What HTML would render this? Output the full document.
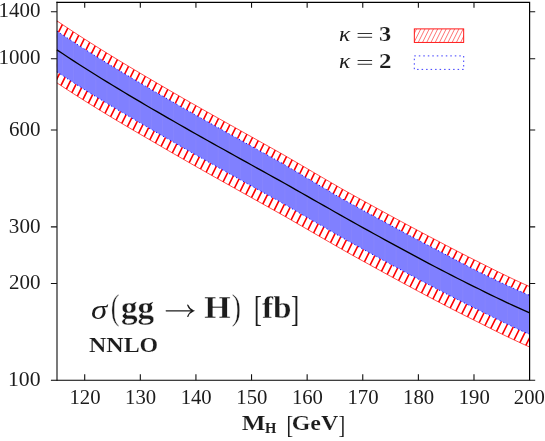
<!DOCTYPE html>
<html><head><meta charset="utf-8"><style>html,body{margin:0;padding:0;background:#fff}svg{display:block}</style></head><body>
<svg width="545" height="441" viewBox="0 0 545 441">
<rect width="545" height="441" fill="#fff"/>
<defs><clipPath id="cb"><polygon points="56.90,20.84 62.46,24.58 68.02,28.28 73.58,31.93 79.14,35.55 84.71,39.13 90.27,42.67 95.83,46.18 101.39,49.66 106.95,53.11 112.51,56.53 118.07,59.93 123.63,63.30 129.20,66.65 134.76,69.98 140.32,73.29 145.88,76.58 151.44,79.85 157.00,83.11 162.56,86.35 168.12,89.59 173.68,92.81 179.25,96.02 184.81,99.22 190.37,102.41 195.93,105.59 201.49,108.76 207.05,111.90 212.61,115.03 218.17,118.16 223.74,121.29 229.30,124.41 234.86,127.53 240.42,130.64 245.98,133.76 251.54,136.87 257.10,139.99 262.66,143.10 268.22,146.21 273.79,149.33 279.35,152.44 284.91,155.61 290.47,158.86 296.03,162.12 301.59,165.37 307.15,168.62 312.71,171.88 318.28,175.13 323.84,178.38 329.40,181.63 334.96,184.87 340.52,188.11 346.08,191.25 351.64,194.36 357.20,197.44 362.76,200.52 368.33,203.58 373.89,206.64 379.45,209.69 385.01,212.74 390.57,215.77 396.13,218.80 401.69,221.81 407.25,224.81 412.82,227.79 418.38,230.76 423.94,233.71 429.50,236.65 435.06,239.56 440.62,242.46 446.18,245.40 451.74,248.31 457.30,251.20 462.87,254.06 468.43,256.89 473.99,259.69 479.55,262.46 485.11,265.30 490.67,268.11 496.23,270.89 501.79,273.62 507.36,276.31 512.92,278.96 518.48,281.55 524.04,284.10 529.60,286.59 529.60,346.99 524.04,344.50 518.48,341.95 512.92,339.36 507.36,336.71 501.79,334.02 496.23,331.29 490.67,328.51 485.11,325.70 479.55,322.86 473.99,320.12 468.43,317.35 462.87,314.55 457.30,311.71 451.74,308.86 446.18,305.97 440.62,303.06 435.06,300.15 429.50,297.23 423.94,294.28 418.38,291.32 412.82,288.34 407.25,285.34 401.69,282.33 396.13,279.31 390.57,276.27 385.01,273.23 379.45,270.17 373.89,267.11 368.33,264.04 362.76,260.96 357.20,257.88 351.64,254.79 346.08,251.66 340.52,248.51 334.96,245.31 329.40,242.10 323.84,238.89 318.28,235.67 312.71,232.46 307.15,229.24 301.59,226.03 296.03,222.81 290.47,219.59 284.91,216.38 279.35,213.24 273.79,210.13 268.22,207.02 262.66,203.91 257.10,200.81 251.54,197.70 245.98,194.59 240.42,191.48 234.86,188.36 229.30,185.25 223.74,182.13 218.17,179.01 212.61,175.88 207.05,172.76 201.49,169.62 195.93,166.46 190.37,163.28 184.81,160.09 179.25,156.89 173.68,153.69 168.12,150.47 162.56,147.25 157.00,144.00 151.44,140.75 145.88,137.53 140.32,134.30 134.76,131.06 129.20,127.80 123.63,124.51 118.07,121.21 112.51,117.88 106.95,114.52 101.39,111.14 95.83,107.73 90.27,104.28 84.71,100.80 79.14,97.29 73.58,93.74 68.02,90.15 62.46,86.52 56.90,82.84"/></clipPath></defs>
<path d="M-70.43,0 L-290.93,441 M-63.18,0 L-283.68,441 M-55.92,0 L-276.42,441 M-48.67,0 L-269.17,441 M-41.41,0 L-261.91,441 M-34.16,0 L-254.66,441 M-26.91,0 L-247.41,441 M-19.65,0 L-240.15,441 M-12.40,0 L-232.90,441 M-5.14,0 L-225.64,441 M2.11,0 L-218.39,441 M9.36,0 L-211.14,441 M16.62,0 L-203.88,441 M23.87,0 L-196.63,441 M31.13,0 L-189.37,441 M38.38,0 L-182.12,441 M45.63,0 L-174.87,441 M52.89,0 L-167.61,441 M60.14,0 L-160.36,441 M67.40,0 L-153.10,441 M74.65,0 L-145.85,441 M81.90,0 L-138.60,441 M89.16,0 L-131.34,441 M96.41,0 L-124.09,441 M103.67,0 L-116.83,441 M110.92,0 L-109.58,441 M118.17,0 L-102.33,441 M125.43,0 L-95.07,441 M132.68,0 L-87.82,441 M139.94,0 L-80.56,441 M147.19,0 L-73.31,441 M154.44,0 L-66.06,441 M161.70,0 L-58.80,441 M168.95,0 L-51.55,441 M176.21,0 L-44.29,441 M183.46,0 L-37.04,441 M190.71,0 L-29.79,441 M197.97,0 L-22.53,441 M205.22,0 L-15.28,441 M212.48,0 L-8.02,441 M219.73,0 L-0.77,441 M226.98,0 L6.48,441 M234.24,0 L13.74,441 M241.49,0 L20.99,441 M248.75,0 L28.25,441 M256.00,0 L35.50,441 M263.25,0 L42.75,441 M270.51,0 L50.01,441 M277.76,0 L57.26,441 M285.02,0 L64.52,441 M292.27,0 L71.77,441 M299.52,0 L79.02,441 M306.78,0 L86.28,441 M314.03,0 L93.53,441 M321.29,0 L100.79,441 M328.54,0 L108.04,441 M335.79,0 L115.29,441 M343.05,0 L122.55,441 M350.30,0 L129.80,441 M357.56,0 L137.06,441 M364.81,0 L144.31,441 M372.06,0 L151.56,441 M379.32,0 L158.82,441 M386.57,0 L166.07,441 M393.83,0 L173.33,441 M401.08,0 L180.58,441 M408.33,0 L187.83,441 M415.59,0 L195.09,441 M422.84,0 L202.34,441 M430.10,0 L209.60,441 M437.35,0 L216.85,441 M444.60,0 L224.10,441 M451.86,0 L231.36,441 M459.11,0 L238.61,441 M466.37,0 L245.87,441 M473.62,0 L253.12,441 M480.87,0 L260.37,441 M488.13,0 L267.63,441 M495.38,0 L274.88,441 M502.64,0 L282.14,441 M509.89,0 L289.39,441 M517.14,0 L296.64,441 M524.40,0 L303.90,441 M531.65,0 L311.15,441 M538.91,0 L318.41,441 M546.16,0 L325.66,441 M553.41,0 L332.91,441 M560.67,0 L340.17,441 M567.92,0 L347.42,441 M575.18,0 L354.68,441 M582.43,0 L361.93,441 M589.68,0 L369.18,441 M596.94,0 L376.44,441 M604.19,0 L383.69,441 M611.45,0 L390.95,441 M618.70,0 L398.20,441 M625.95,0 L405.45,441 M633.21,0 L412.71,441 M640.46,0 L419.96,441 M647.72,0 L427.22,441 M654.97,0 L434.47,441 M662.22,0 L441.72,441 M669.48,0 L448.98,441 M676.73,0 L456.23,441 M683.99,0 L463.49,441 M691.24,0 L470.74,441 M698.49,0 L477.99,441 M705.75,0 L485.25,441 M713.00,0 L492.50,441 M720.26,0 L499.76,441 M727.51,0 L507.01,441 M734.76,0 L514.26,441 M742.02,0 L521.52,441 M749.27,0 L528.77,441" stroke="#ff0000" stroke-width="1.60" fill="none" clip-path="url(#cb)"/>
<polyline points="56.90,20.84 62.46,24.58 68.02,28.28 73.58,31.93 79.14,35.55 84.71,39.13 90.27,42.67 95.83,46.18 101.39,49.66 106.95,53.11 112.51,56.53 118.07,59.93 123.63,63.30 129.20,66.65 134.76,69.98 140.32,73.29 145.88,76.58 151.44,79.85 157.00,83.11 162.56,86.35 168.12,89.59 173.68,92.81 179.25,96.02 184.81,99.22 190.37,102.41 195.93,105.59 201.49,108.76 207.05,111.90 212.61,115.03 218.17,118.16 223.74,121.29 229.30,124.41 234.86,127.53 240.42,130.64 245.98,133.76 251.54,136.87 257.10,139.99 262.66,143.10 268.22,146.21 273.79,149.33 279.35,152.44 284.91,155.61 290.47,158.86 296.03,162.12 301.59,165.37 307.15,168.62 312.71,171.88 318.28,175.13 323.84,178.38 329.40,181.63 334.96,184.87 340.52,188.11 346.08,191.25 351.64,194.36 357.20,197.44 362.76,200.52 368.33,203.58 373.89,206.64 379.45,209.69 385.01,212.74 390.57,215.77 396.13,218.80 401.69,221.81 407.25,224.81 412.82,227.79 418.38,230.76 423.94,233.71 429.50,236.65 435.06,239.56 440.62,242.46 446.18,245.40 451.74,248.31 457.30,251.20 462.87,254.06 468.43,256.89 473.99,259.69 479.55,262.46 485.11,265.30 490.67,268.11 496.23,270.89 501.79,273.62 507.36,276.31 512.92,278.96 518.48,281.55 524.04,284.10 529.60,286.59" fill="none" stroke="#ff0000" stroke-width="0.7"/>
<polyline points="56.90,82.84 62.46,86.52 68.02,90.15 73.58,93.74 79.14,97.29 84.71,100.80 90.27,104.28 95.83,107.73 101.39,111.14 106.95,114.52 112.51,117.88 118.07,121.21 123.63,124.51 129.20,127.80 134.76,131.06 140.32,134.30 145.88,137.53 151.44,140.75 157.00,144.00 162.56,147.25 168.12,150.47 173.68,153.69 179.25,156.89 184.81,160.09 190.37,163.28 195.93,166.46 201.49,169.62 207.05,172.76 212.61,175.88 218.17,179.01 223.74,182.13 229.30,185.25 234.86,188.36 240.42,191.48 245.98,194.59 251.54,197.70 257.10,200.81 262.66,203.91 268.22,207.02 273.79,210.13 279.35,213.24 284.91,216.38 290.47,219.59 296.03,222.81 301.59,226.03 307.15,229.24 312.71,232.46 318.28,235.67 323.84,238.89 329.40,242.10 334.96,245.31 340.52,248.51 346.08,251.66 351.64,254.79 357.20,257.88 362.76,260.96 368.33,264.04 373.89,267.11 379.45,270.17 385.01,273.23 390.57,276.27 396.13,279.31 401.69,282.33 407.25,285.34 412.82,288.34 418.38,291.32 423.94,294.28 429.50,297.23 435.06,300.15 440.62,303.06 446.18,305.97 451.74,308.86 457.30,311.71 462.87,314.55 468.43,317.35 473.99,320.12 479.55,322.86 485.11,325.70 490.67,328.51 496.23,331.29 501.79,334.02 507.36,336.71 512.92,339.36 518.48,341.95 524.04,344.50 529.60,346.99" fill="none" stroke="#ff0000" stroke-width="0.7"/>
<polygon points="56.90,31.04 62.46,34.76 68.02,38.43 73.58,42.06 79.14,45.65 84.71,49.21 90.27,52.73 95.83,56.22 101.39,59.67 106.95,63.10 112.51,66.50 118.07,69.87 123.63,73.22 129.20,76.54 134.76,79.84 140.32,83.13 145.88,86.39 151.44,89.64 157.00,92.88 162.56,96.11 168.12,99.32 173.68,102.52 179.25,105.70 184.81,108.88 190.37,112.05 195.93,115.22 201.49,118.36 207.05,121.48 212.61,124.59 218.17,127.70 223.74,130.80 229.30,133.90 234.86,137.00 240.42,140.10 245.98,143.19 251.54,146.28 257.10,149.38 262.66,152.47 268.22,155.56 273.79,158.65 279.35,161.74 284.91,164.95 290.47,168.25 296.03,171.55 301.59,174.85 307.15,178.15 312.71,181.45 318.28,184.75 323.84,188.04 329.40,191.34 334.96,194.63 340.52,197.91 346.08,201.02 351.64,204.12 357.20,207.17 362.76,210.22 368.33,213.27 373.89,216.31 379.45,219.34 385.01,222.36 390.57,225.37 396.13,228.37 401.69,231.36 407.25,234.34 412.82,237.30 418.38,240.25 423.94,243.18 429.50,246.09 435.06,248.98 440.62,251.87 446.18,254.86 451.74,257.83 457.30,260.77 462.87,263.69 468.43,266.58 473.99,269.43 479.55,272.25 485.11,274.99 490.67,277.70 496.23,280.36 501.79,282.98 507.36,285.56 512.92,288.09 518.48,290.58 524.04,293.01 529.60,295.39 529.60,334.39 524.04,331.92 518.48,329.40 512.92,326.82 507.36,324.20 501.79,321.53 496.23,318.82 490.67,316.07 485.11,313.28 479.55,310.46 473.99,307.75 468.43,305.01 462.87,302.23 457.30,299.43 451.74,296.60 446.18,293.74 440.62,290.86 435.06,287.97 429.50,285.07 423.94,282.15 418.38,279.20 412.82,276.25 407.25,273.27 401.69,270.28 396.13,267.28 390.57,264.27 385.01,261.25 379.45,258.22 373.89,255.17 368.33,252.13 362.76,249.07 357.20,246.01 351.64,242.94 346.08,239.83 340.52,236.71 334.96,233.51 329.40,230.30 323.84,227.09 318.28,223.87 312.71,220.66 307.15,217.44 301.59,214.23 296.03,211.01 290.47,207.79 284.91,204.58 279.35,201.44 273.79,198.35 268.22,195.27 262.66,192.18 257.10,189.09 251.54,186.01 245.98,182.92 240.42,179.83 234.86,176.74 229.30,173.64 223.74,170.55 218.17,167.45 212.61,164.34 207.05,161.24 201.49,158.12 195.93,154.98 190.37,151.82 184.81,148.66 179.25,145.48 173.68,142.30 168.12,139.10 162.56,135.90 157.00,132.68 151.44,129.44 145.88,126.24 140.32,123.03 134.76,119.81 129.20,116.56 123.63,113.30 118.07,110.01 112.51,106.70 106.95,103.36 101.39,100.00 95.83,96.60 90.27,93.17 84.71,89.71 79.14,86.22 73.58,82.69 68.02,79.12 62.46,75.50 56.90,71.84" fill="#8080ff"/>
<defs><clipPath id="bb"><polygon points="56.90,31.04 62.46,34.76 68.02,38.43 73.58,42.06 79.14,45.65 84.71,49.21 90.27,52.73 95.83,56.22 101.39,59.67 106.95,63.10 112.51,66.50 118.07,69.87 123.63,73.22 129.20,76.54 134.76,79.84 140.32,83.13 145.88,86.39 151.44,89.64 157.00,92.88 162.56,96.11 168.12,99.32 173.68,102.52 179.25,105.70 184.81,108.88 190.37,112.05 195.93,115.22 201.49,118.36 207.05,121.48 212.61,124.59 218.17,127.70 223.74,130.80 229.30,133.90 234.86,137.00 240.42,140.10 245.98,143.19 251.54,146.28 257.10,149.38 262.66,152.47 268.22,155.56 273.79,158.65 279.35,161.74 284.91,164.95 290.47,168.25 296.03,171.55 301.59,174.85 307.15,178.15 312.71,181.45 318.28,184.75 323.84,188.04 329.40,191.34 334.96,194.63 340.52,197.91 346.08,201.02 351.64,204.12 357.20,207.17 362.76,210.22 368.33,213.27 373.89,216.31 379.45,219.34 385.01,222.36 390.57,225.37 396.13,228.37 401.69,231.36 407.25,234.34 412.82,237.30 418.38,240.25 423.94,243.18 429.50,246.09 435.06,248.98 440.62,251.87 446.18,254.86 451.74,257.83 457.30,260.77 462.87,263.69 468.43,266.58 473.99,269.43 479.55,272.25 485.11,274.99 490.67,277.70 496.23,280.36 501.79,282.98 507.36,285.56 512.92,288.09 518.48,290.58 524.04,293.01 529.60,295.39 529.60,334.39 524.04,331.92 518.48,329.40 512.92,326.82 507.36,324.20 501.79,321.53 496.23,318.82 490.67,316.07 485.11,313.28 479.55,310.46 473.99,307.75 468.43,305.01 462.87,302.23 457.30,299.43 451.74,296.60 446.18,293.74 440.62,290.86 435.06,287.97 429.50,285.07 423.94,282.15 418.38,279.20 412.82,276.25 407.25,273.27 401.69,270.28 396.13,267.28 390.57,264.27 385.01,261.25 379.45,258.22 373.89,255.17 368.33,252.13 362.76,249.07 357.20,246.01 351.64,242.94 346.08,239.83 340.52,236.71 334.96,233.51 329.40,230.30 323.84,227.09 318.28,223.87 312.71,220.66 307.15,217.44 301.59,214.23 296.03,211.01 290.47,207.79 284.91,204.58 279.35,201.44 273.79,198.35 268.22,195.27 262.66,192.18 257.10,189.09 251.54,186.01 245.98,182.92 240.42,179.83 234.86,176.74 229.30,173.64 223.74,170.55 218.17,167.45 212.61,164.34 207.05,161.24 201.49,158.12 195.93,154.98 190.37,151.82 184.81,148.66 179.25,145.48 173.68,142.30 168.12,139.10 162.56,135.90 157.00,132.68 151.44,129.44 145.88,126.24 140.32,123.03 134.76,119.81 129.20,116.56 123.63,113.30 118.07,110.01 112.51,106.70 106.95,103.36 101.39,100.00 95.83,96.60 90.27,93.17 84.71,89.71 79.14,86.22 73.58,82.69 68.02,79.12 62.46,75.50 56.90,71.84"/></clipPath></defs>
<path d="M62.46,0 V441 M73.58,0 V441 M84.71,0 V441 M95.83,0 V441 M106.95,0 V441 M118.07,0 V441 M129.20,0 V441 M140.32,0 V441 M151.44,0 V441 M162.56,0 V441 M173.68,0 V441 M184.81,0 V441 M195.93,0 V441 M207.05,0 V441 M218.17,0 V441 M229.30,0 V441 M240.42,0 V441 M251.54,0 V441 M262.66,0 V441 M273.79,0 V441 M284.91,0 V441 M296.03,0 V441 M307.15,0 V441 M318.28,0 V441 M329.40,0 V441 M340.52,0 V441 M351.64,0 V441 M362.76,0 V441 M373.89,0 V441 M385.01,0 V441 M396.13,0 V441 M407.25,0 V441 M418.38,0 V441 M429.50,0 V441 M440.62,0 V441 M451.74,0 V441 M462.87,0 V441 M473.99,0 V441 M485.11,0 V441 M496.23,0 V441 M507.36,0 V441 M518.48,0 V441" stroke="#ffd0e0" stroke-opacity="0.09" stroke-width="0.6" fill="none" clip-path="url(#bb)"/>
<polyline points="56.90,31.04 62.46,34.76 68.02,38.43 73.58,42.06 79.14,45.65 84.71,49.21 90.27,52.73 95.83,56.22 101.39,59.67 106.95,63.10 112.51,66.50 118.07,69.87 123.63,73.22 129.20,76.54 134.76,79.84 140.32,83.13 145.88,86.39 151.44,89.64 157.00,92.88 162.56,96.11 168.12,99.32 173.68,102.52 179.25,105.70 184.81,108.88 190.37,112.05 195.93,115.22 201.49,118.36 207.05,121.48 212.61,124.59 218.17,127.70 223.74,130.80 229.30,133.90 234.86,137.00 240.42,140.10 245.98,143.19 251.54,146.28 257.10,149.38 262.66,152.47 268.22,155.56 273.79,158.65 279.35,161.74 284.91,164.95 290.47,168.25 296.03,171.55 301.59,174.85 307.15,178.15 312.71,181.45 318.28,184.75 323.84,188.04 329.40,191.34 334.96,194.63 340.52,197.91 346.08,201.02 351.64,204.12 357.20,207.17 362.76,210.22 368.33,213.27 373.89,216.31 379.45,219.34 385.01,222.36 390.57,225.37 396.13,228.37 401.69,231.36 407.25,234.34 412.82,237.30 418.38,240.25 423.94,243.18 429.50,246.09 435.06,248.98 440.62,251.87 446.18,254.86 451.74,257.83 457.30,260.77 462.87,263.69 468.43,266.58 473.99,269.43 479.55,272.25 485.11,274.99 490.67,277.70 496.23,280.36 501.79,282.98 507.36,285.56 512.92,288.09 518.48,290.58 524.04,293.01 529.60,295.39" fill="none" stroke="#0000ff" stroke-width="0.95" stroke-dasharray="1.2,2.8"/>
<polyline points="56.90,71.84 62.46,75.50 68.02,79.12 73.58,82.69 79.14,86.22 84.71,89.71 90.27,93.17 95.83,96.60 101.39,100.00 106.95,103.36 112.51,106.70 118.07,110.01 123.63,113.30 129.20,116.56 134.76,119.81 140.32,123.03 145.88,126.24 151.44,129.44 157.00,132.68 162.56,135.90 168.12,139.10 173.68,142.30 179.25,145.48 184.81,148.66 190.37,151.82 195.93,154.98 201.49,158.12 207.05,161.24 212.61,164.34 218.17,167.45 223.74,170.55 229.30,173.64 234.86,176.74 240.42,179.83 245.98,182.92 251.54,186.01 257.10,189.09 262.66,192.18 268.22,195.27 273.79,198.35 279.35,201.44 284.91,204.58 290.47,207.79 296.03,211.01 301.59,214.23 307.15,217.44 312.71,220.66 318.28,223.87 323.84,227.09 329.40,230.30 334.96,233.51 340.52,236.71 346.08,239.83 351.64,242.94 357.20,246.01 362.76,249.07 368.33,252.13 373.89,255.17 379.45,258.22 385.01,261.25 390.57,264.27 396.13,267.28 401.69,270.28 407.25,273.27 412.82,276.25 418.38,279.20 423.94,282.15 429.50,285.07 435.06,287.97 440.62,290.86 446.18,293.74 451.74,296.60 457.30,299.43 462.87,302.23 468.43,305.01 473.99,307.75 479.55,310.46 485.11,313.28 490.67,316.07 496.23,318.82 501.79,321.53 507.36,324.20 512.92,326.82 518.48,329.40 524.04,331.92 529.60,334.39" fill="none" stroke="#0000ff" stroke-width="0.95" stroke-dasharray="1.2,2.8"/>
<polyline points="56.90,49.84 62.46,53.56 68.02,57.23 73.58,60.86 79.14,64.45 84.71,68.01 90.27,71.53 95.83,75.02 101.39,78.47 106.95,81.90 112.51,85.30 118.07,88.67 123.63,92.02 129.20,95.34 134.76,98.64 140.32,101.93 145.88,105.19 151.44,108.44 157.00,111.68 162.56,114.90 168.12,118.10 173.68,121.30 179.25,124.48 184.81,127.66 190.37,130.82 195.93,133.98 201.49,137.12 207.05,140.24 212.61,143.34 218.17,146.45 223.74,149.55 229.30,152.64 234.86,155.74 240.42,158.83 245.98,161.92 251.54,165.01 257.10,168.09 262.66,171.18 268.22,174.27 273.79,177.35 279.35,180.44 284.91,183.53 290.47,186.69 296.03,189.85 301.59,193.01 307.15,196.17 312.71,199.33 318.28,202.49 323.84,205.65 329.40,208.80 334.96,211.96 340.52,215.11 346.08,218.26 351.64,221.39 357.20,224.48 362.76,227.56 368.33,230.64 373.89,233.71 379.45,236.77 385.01,239.83 390.57,242.87 396.13,245.91 401.69,248.93 407.25,251.94 412.82,254.94 418.38,257.92 423.94,260.88 429.50,263.83 435.06,266.75 440.62,269.66 446.18,272.54 451.74,275.40 457.30,278.23 462.87,281.03 468.43,283.81 473.99,286.55 479.55,289.26 485.11,292.05 490.67,294.80 496.23,297.52 501.79,300.20 507.36,302.84 512.92,305.42 518.48,307.96 524.04,310.45 529.60,312.89" fill="none" stroke="#000" stroke-width="1.3"/>
<path d="M56.40,2.45 H529.60 V380.25 H50.90" fill="none" stroke="#000" stroke-width="1.2"/>
<path d="M57.00,1.85 V380.85" fill="none" stroke="#000" stroke-width="1.05"/>
<path d="M529.60,380.25 h5.60 M529.60,283.47 h5.60 M529.60,226.86 h5.60 M529.60,130.07 h5.60 M529.60,58.75 h5.60 M529.60,11.77 h5.60 M84.71,380.25 v-6.00 M84.71,2.45 v5.30 M140.32,380.25 v-6.00 M140.32,2.45 v5.30 M195.93,380.25 v-6.00 M195.93,2.45 v5.30 M251.54,380.25 v-6.00 M251.54,2.45 v5.30 M307.15,380.25 v-6.00 M307.15,2.45 v5.30 M362.76,380.25 v-6.00 M362.76,2.45 v5.30 M418.38,380.25 v-6.00 M418.38,2.45 v5.30 M473.99,380.25 v-6.00 M473.99,2.45 v5.30" stroke="#111" stroke-width="1.1" fill="none"/>
<path d="M50.90,283.47 h6.00 M50.90,226.86 h6.00 M50.90,130.07 h6.00 M50.90,58.75 h6.00 M50.90,11.77 h6.00" stroke="#111" stroke-width="1.1" fill="none"/>
<g font-family="'Liberation Serif', serif" font-size="100" fill="#1c1c1c" opacity="0.999">
<text transform="matrix(0.2175,0,0,0.2090,7.94,385.95)">100</text>
<text transform="matrix(0.2099,0,0,0.2090,9.06,289.17)">200</text>
<text transform="matrix(0.2113,0,0,0.2090,8.84,232.56)">300</text>
<text transform="matrix(0.2099,0,0,0.2090,9.06,135.77)">600</text>
<text transform="matrix(0.2096,0,0,0.2090,-1.39,64.45)">1000</text>
<text transform="matrix(0.2096,0,0,0.2090,-1.39,17.47)">1400</text>
<text transform="matrix(0.2073,0,0,0.2090,69.44,403.60)">120</text>
<text transform="matrix(0.2073,0,0,0.2090,125.05,403.60)">130</text>
<text transform="matrix(0.2073,0,0,0.2090,180.66,403.60)">140</text>
<text transform="matrix(0.2073,0,0,0.2090,236.28,403.60)">150</text>
<text transform="matrix(0.2073,0,0,0.2090,291.89,403.60)">160</text>
<text transform="matrix(0.2073,0,0,0.2090,347.50,403.60)">170</text>
<text transform="matrix(0.2073,0,0,0.2090,403.11,403.60)">180</text>
<text transform="matrix(0.2073,0,0,0.2090,458.72,403.60)">190</text>
<text transform="matrix(0.2070,0,0,0.2090,513.87,403.60)">200</text>
<text transform="matrix(0.2517,0,0,0.2060,241.80,430.20)" font-weight="bold" stroke="#fff" stroke-width="0.7">M</text>
<text transform="matrix(0.1459,0,0,0.1460,265.11,433.40)" font-weight="bold">H</text>
<text transform="matrix(0.2000,0,0,0.2512,286.40,432.53)">[</text>
<text transform="matrix(0.2394,0,0,0.2060,291.70,430.20)" font-weight="bold" stroke="#fff" stroke-width="0.7">GeV</text>
<text transform="matrix(0.2000,0,0,0.2512,338.40,432.53)">]</text>
<text transform="matrix(0.3286,0,0,0.2788,90.91,318.62)" font-style="italic">σ</text>
<text transform="matrix(0.2615,0,0,0.3489,110.85,318.67)" stroke="#fff" stroke-width="1.2">(</text>
<text transform="matrix(0.3323,0,0,0.3250,120.90,318.00)" font-weight="bold" stroke="#fff" stroke-width="1.1">gg</text>
<text transform="matrix(0.3392,0,0,0.3250,204.22,318.00)" font-weight="bold" stroke="#fff" stroke-width="1.1">H</text>
<text transform="matrix(0.2769,0,0,0.3489,231.77,318.67)" stroke="#fff" stroke-width="1.2">)</text>
<text transform="matrix(0.2348,0,0,0.3646,253.96,320.66)">[</text>
<text transform="matrix(0.3333,0,0,0.3250,261.97,318.00)" font-weight="bold" stroke="#fff" stroke-width="1.1">fb</text>
<text transform="matrix(0.2455,0,0,0.3646,291.02,320.66)">]</text>
<text transform="matrix(0.2397,0,0,0.2140,89.02,351.60)" font-weight="bold" stroke="#fff" stroke-width="0.7">NNLO</text>
<text transform="matrix(0.2333,0,0,0.2000,339.07,40.50)" font-style="italic">κ</text>
<text transform="matrix(0.2333,0,0,0.2000,339.07,67.50)" font-style="italic">κ</text>
<text transform="matrix(0.2442,0,0,0.2040,379.12,40.60)" font-weight="bold" stroke="#fff" stroke-width="0.7">3</text>
<text transform="matrix(0.2500,0,0,0.2040,379.10,67.50)" font-weight="bold" stroke="#fff" stroke-width="0.7">2</text>
</g>
<path d="M166.2,310.8 H192.8 M187.8,305.2 Q189.4,309.3 193.3,310.8 Q189.4,312.3 187.8,316.4" fill="none" stroke="#1c1c1c" stroke-width="1.25" stroke-linecap="round"/>
<path d="M357.6,33.50 H372.1 M357.6,37.30 H372.1" stroke="#1c1c1c" stroke-width="0.9" fill="none"/>
<path d="M357.6,60.50 H372.1 M357.6,64.30 H372.1" stroke="#1c1c1c" stroke-width="0.9" fill="none"/>
<defs><clipPath id="lb"><rect x="414.3" y="28.9" width="49.4" height="13.5"/></clipPath></defs>
<path d="M405.54,42.40 l6.75,-13.50 M409.78,42.40 l6.75,-13.50 M414.02,42.40 l6.75,-13.50 M418.26,42.40 l6.75,-13.50 M422.50,42.40 l6.75,-13.50 M426.74,42.40 l6.75,-13.50 M430.98,42.40 l6.75,-13.50 M435.22,42.40 l6.75,-13.50 M439.46,42.40 l6.75,-13.50 M443.70,42.40 l6.75,-13.50 M447.94,42.40 l6.75,-13.50 M452.18,42.40 l6.75,-13.50 M456.42,42.40 l6.75,-13.50 M460.66,42.40 l6.75,-13.50" stroke="#ff0000" stroke-width="0.55" fill="none" clip-path="url(#lb)"/>
<rect x="414.3" y="28.9" width="49.4" height="13.5" fill="none" stroke="#ff0000" stroke-width="0.9"/>
<rect x="414.3" y="55.9" width="49.4" height="13.5" fill="none" stroke="#3030ff" stroke-width="0.95" stroke-dasharray="1.5,3"/>
</svg>
</body></html>
